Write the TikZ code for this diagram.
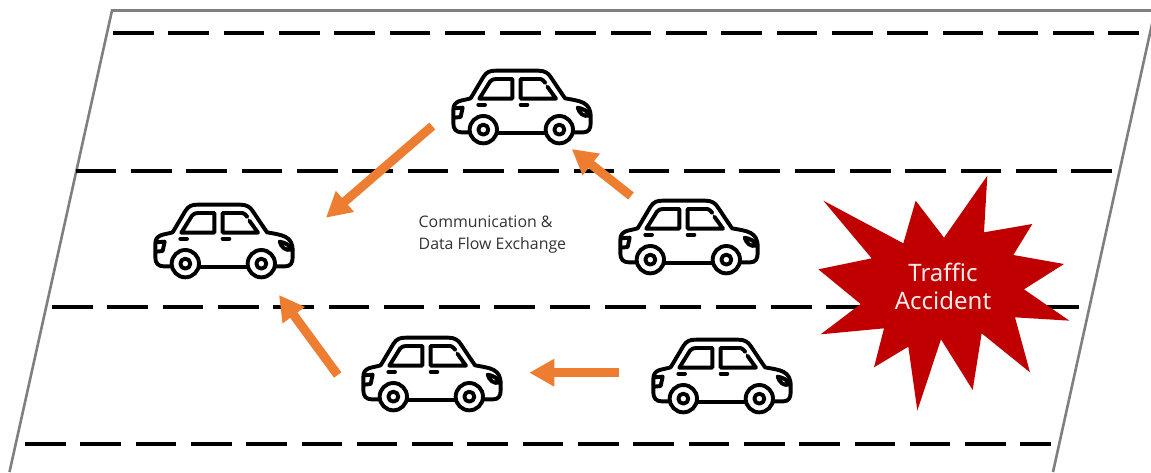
\documentclass[tikz,border=0pt]{standalone}
\usepackage{fontspec}
\setmainfont{Open Sans}
\newfontfamily\accfont{Noto Sans}
\usetikzlibrary{arrows.meta}
\definecolor{roadgray}{HTML}{7F7F7F}
\definecolor{arroworange}{HTML}{ED7D31}
\definecolor{crashred}{HTML}{C00000}
\tikzset{
  edgeline/.style={draw=roadgray,line width=2.6pt},
  laneline/.style={draw=black,line width=4.8pt,dash pattern=on 40.6pt off 14.7pt},
  flow/.style={draw=arroworange,line width=9pt,-{Triangle[length=25pt,width=26pt]}},
  carline/.style={draw=black,line width=3.9pt,line cap=round,line join=round},
  car/.pic={
    \begin{scope}[scale=1/3]
      \draw[carline] (122,130) -- (160,66) .. controls (170,50) and (180,47) .. (198,47) -- (325,47)
        .. controls (345,47) and (355,55) .. (362,66) -- (405,130)
        .. controls (450,138) and (482,140) .. (482,185) -- (482,205)
        .. controls (482,222) and (475,232) .. (460,232) -- (428,232);
      \draw[carline] (122,130) .. controls (95,138) and (70,135) .. (70,165) -- (70,205)
        .. controls (70,222) and (78,232) .. (95,232) -- (118,232);
      \draw[carline] (204,235) -- (345,235);
      \draw[carline] (160,224) circle [radius=41];
      \draw[carline] (388,224) circle [radius=41];
      \draw[carline] (160,224) circle [radius=15];
      \draw[carline] (388,224) circle [radius=15];
      \draw[carline] (148,131) -- (180,80) .. controls (185,74) and (190,72) .. (198,72) -- (247,72) -- (247,131) -- cycle;
      \draw[carline] (332,72) -- (272,72) -- (272,131) -- (378,131) -- (352,95);
      \draw[carline] (332,72) .. controls (338,74) and (342,78) .. (346,84);
      \draw[carline] (145,149) -- (165,149);
      \draw[carline] (272,149) -- (292,149);
      \draw[carline] (443,158) .. controls (458,160) and (474,168) .. (478,182) .. controls (462,186) and (448,176) .. (443,158) -- cycle;
      \draw[carline] (72,160) -- (98,158) -- (92,186) -- (72,188);
    \end{scope}
  }
}
\begin{document}
\begin{tikzpicture}[x=1pt,y=-1pt]
  \useasboundingbox (0,0) rectangle (1151,472);
  \fill[white] (0,0) rectangle (1151,472);
  % road edges
  \coordinate (roadBL) at (9.5,472);
  \coordinate (roadTL) at (112,10.5);
  \coordinate (roadTR) at (1151,10.5);
  \coordinate (roadRT) at (1155,10.5);
  \coordinate (roadRB) at (1053,472);
  \draw[edgeline] (roadBL) -- (roadTL) -- (roadTR);
  \draw[edgeline] (roadRT) -- (roadRB);
  % lane lines
  \coordinate (laneAa) at (113,33);   \coordinate (laneAb) at (1139,33);
  \coordinate (laneBa) at (75.8,171); \coordinate (laneBb) at (1112.5,171);
  \coordinate (laneCa) at (52,307);   \coordinate (laneCb) at (1079,307);
  \coordinate (laneDa) at (25,444);   \coordinate (laneDb) at (1050.5,444);
  \draw[laneline] (laneAa) -- (laneAb);
  \draw[laneline] (laneBa) -- (laneBb);
  \draw[laneline] (laneCa) -- (laneCb);
  \draw[laneline] (laneDa) -- (laneDb);
  % cars
  \coordinate (carTop) at (430,55);
  \coordinate (carLeft) at (132,189);
  \coordinate (carRight) at (597,185);
  \coordinate (carMid) at (340,322);
  \coordinate (carLow) at (630,324);
  \pic at (carTop) {car};
  \pic at (carLeft) {car};
  \pic at (carRight) {car};
  \pic at (carMid) {car};
  \pic at (carLow) {car};
  % arrows
  \coordinate (aS) at (432.3,126);   \coordinate (aE) at (326,217.7);
  \coordinate (bS) at (631,196);     \coordinate (bE) at (571.7,149);
  \coordinate (cS) at (337.7,375);   \coordinate (cE) at (279,295);
  \coordinate (dS) at (619.3,372.7); \coordinate (dE) at (529.3,372.7);
  \draw[flow] (aS) -- (aE);
  \draw[flow] (bS) -- (bE);
  \draw[flow] (cS) -- (cE);
  \draw[flow] (dS) -- (dE);
  % label
  \node[anchor=west,align=left,text=black!80,font=\fontsize{15.9}{22}\selectfont,inner sep=0pt] (exchange) at (418.5,235) {Communication \&\\Data Flow Exchange};
  % burst
  \begin{scope}[shift={(800,160)},scale=1/3]
    \fill[crashred] (562,47) -- (552,217) -- (697,192) -- (640,285) -- (792,312) -- (672,388) -- (808,482) -- (645,472) -- (690,637) -- (545,520) -- (518,690) -- (423,538) -- (352,752) -- (325,560) -- (222,622) -- (252,505) -- (62,523) -- (182,432) -- (55,328) -- (215,295) -- (70,122) -- (310,250) -- (347,122) -- (432,233) -- cycle;
  \end{scope}
  \node[align=center,text=white!92!red,font=\accfont\fontsize{24}{28}\selectfont,inner sep=0pt] (accident) at (943,286) {Traffic\\Accident};
\end{tikzpicture}
\end{document}
